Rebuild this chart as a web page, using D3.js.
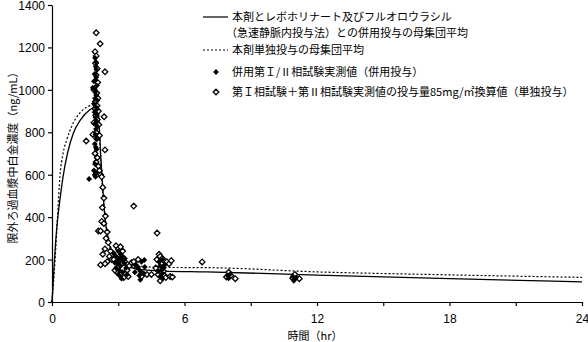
<!DOCTYPE html>
<html>
<head>
<meta charset="utf-8">
<script src="https://cdn.jsdelivr.net/npm/d3@7"></script>
<style>
  body { margin: 0; background: #fff; }
  svg { display: block; font-family: "Liberation Sans", Arial, "Noto Sans CJK JP", sans-serif; }
  .jp { font-family: "Noto Sans CJK JP", sans-serif; }
</style>
</head>
<body>
<script>
'use strict';

// population mean curves (time hr, conc ng/mL)
var comboT = [0, 0.1, 0.2, 0.36, 0.5, 0.7, 0.97, 1.3, 1.73, 2.05, 2.1, 2.2, 2.32, 2.4, 2.5, 2.62, 2.8, 3.0, 3.4, 3.85, 5, 7, 12, 18, 24];
var comboV = [0, 180, 330, 483, 590, 700, 797, 860, 907, 923, 900, 700, 500, 400, 320, 260, 215, 190, 170, 155, 146, 142, 127, 110, 95];
var singleT = [0, 0.14, 0.25, 0.36, 0.5, 0.67, 0.9, 1.27, 1.6, 1.9, 2.0, 2.12, 2.22, 2.33, 2.42, 2.55, 2.72, 2.95, 3.3, 3.9, 5, 7, 12, 18, 24];
var singleV = [0, 200, 400, 593, 700, 766, 830, 892, 920, 931, 935, 850, 650, 480, 380, 300, 240, 200, 180, 170, 163, 162, 142, 128, 116];

// combination phase I/II observed (filled)
var comboObs = [
  [1.95,1150],[2.0,1130],[1.98,1110],[2.02,1095],[1.93,1075],[2.0,1060],[1.97,1045],[1.9,1040],[2.03,1020],[1.85,1010],
  [1.92,1005],[1.96,990],[2.0,975],[1.95,960],[2.05,950],[1.9,935],[1.98,920],[2.0,905],[1.93,895],[2.02,885],
  [1.97,870],[2.0,855],[1.95,840],[2.04,830],[1.99,815],[1.96,790],[2.0,770],[1.94,745],[1.98,730],[2.02,720],
  [1.95,650],[1.9,620],[2.0,610],[1.93,600],[1.97,590],[1.68,580],
  [2.8,230],[2.9,215],[3.0,240],[3.05,205],[3.1,225],[2.95,195],[3.0,180],[3.15,200],[3.2,215],[3.1,170],
  [2.9,160],[3.05,150],[3.2,140],[3.0,130],[3.1,120],[3.25,185],[3.3,205],[3.35,160],[3.4,130],[2.85,185],[3.15,110],
  [3.8,175],[3.9,160],[4.0,145],[4.05,190],[4.18,198],[3.95,125],[4.0,105],[4.15,135],[4.2,165],[3.75,140],
  [4.85,190],[4.9,170],[4.95,150],[5.0,135],[5.05,160],[4.9,120],[5.0,110],[5.1,175],[4.8,145],[5.0,200],
  [7.95,125],[8.0,112],[8.05,130],
  [10.9,120],[11.0,108],[11.05,115],[10.95,100]
];

// phase I + phase II observed, normalised to 85 mg/m2 (open)
var singleObs = [
  [2.0,1269],[2.18,1217],[2.4,1085],[1.95,1180],[2.0,1160],[1.97,1125],[2.05,1100],[2.0,1070],[2.07,1035],[1.9,1000],
  [2.03,985],[2.08,960],[1.97,945],[2.04,925],[1.95,910],[2.1,900],[1.98,880],[2.36,873],[2.05,860],[1.9,845],
  [2.12,835],[2.0,800],[1.85,790],[2.15,785],[1.55,759],[2.03,770],[2.4,717],[1.95,700],[2.05,680],[2.0,660],
  [2.1,640],[2.2,600],[2.15,620],[2.25,590],[2.3,540],[2.35,490],[2.28,445],[2.42,405],[2.25,380],[2.35,370],
  [2.5,330],[2.1,335],[2.45,300],[2.2,335],[2.55,280],[2.4,250],[2.3,225],[2.6,215],[2.2,175],[2.5,190],
  [2.65,240],[2.7,200],[2.4,180],
  [2.9,265],[3.0,250],[3.1,260],[2.8,200],[3.2,240],[3.3,190],[3.15,180],[3.0,165],[2.95,140],[3.1,130],
  [3.25,115],[3.4,150],[3.5,170],[2.85,150],[3.45,120],
  [3.7,452],[4.76,325],[6.8,189],
  [3.6,185],[3.7,190],[3.85,165],[4.3,130],[3.9,200],[4.05,120],
  [4.85,225],[4.9,215],[5.0,205],[5.2,190],[5.3,180],[4.95,180],[4.7,160],[4.8,130],[5.05,145],[5.1,125],
  [4.9,100],[5.15,115],[5.35,120],[5.45,118],[4.75,200],[5.4,195],[4.5,130],
  [8.0,140],[8.1,125],[8.3,110],[7.9,118],
  [11.0,130],[11.2,110],[10.9,112]
];

var xTicks = [0, 3, 6, 9, 12, 15, 18, 21, 24];
var yTicks = [0, 200, 400, 600, 800, 1000, 1200, 1400];

var legendLabels = [
  ["本剤とレボホリナート及びフルオロウラシル", "（急速静脈内投与法）との併用投与の母集団平均"],
  ["本剤単独投与の母集団平均"],
  ["併用第Ｉ/Ⅱ相試験実測値（併用投与）"],
  ["第Ｉ相試験＋第Ⅱ相試験実測値の投与量85mg/㎡換算値（単独投与）"]
];

var W = 588, H = 342;
var svg = d3.select("body").append("svg").attr("width", W).attr("height", H);

var x = d3.scaleLinear().domain([0, 24]).range([52, 582]);
var y = d3.scaleLinear().domain([0, 1400]).range([302, 5]);

// axes
var xAxis = svg.append("g").attr("transform", "translate(0,302)")
  .call(d3.axisBottom(x).tickValues(xTicks).tickSize(4).tickSizeOuter(0)
    .tickFormat(function(d){ return d % 6 === 0 ? d : ""; }));
var yAxis = svg.append("g").attr("transform", "translate(52,0)")
  .call(d3.axisLeft(y).tickValues(yTicks).tickSize(4).tickSizeOuter(0).tickFormat(d3.format("d")));
[xAxis, yAxis].forEach(function(g){
  g.selectAll("path, line").attr("stroke", "#000").attr("stroke-width", 1.2);
  g.selectAll("text").attr("fill", "#000").style("font-size", "12px");
});
xAxis.selectAll("text").attr("dy", "1.2em");
yAxis.selectAll("text").attr("dy", "0.38em");

svg.append("text").attr("class", "jp")
  .attr("x", 315).attr("y", 340).attr("text-anchor", "middle")
  .style("font-size", "11px").text("時間（hr）");
svg.append("text").attr("class", "jp")
  .attr("transform", "translate(17,155) rotate(-90)").attr("text-anchor", "middle")
  .style("font-size", "11px").text("限外ろ過血漿中白金濃度（ng/mL）");

// curves
var line = d3.line().curve(d3.curveMonotoneX)
  .x(function(d){ return x(d[0]); }).y(function(d){ return y(d[1]); });
var comboCurve = comboT.map(function(t, i){ return [t, comboV[i]]; });
var singleCurve = singleT.map(function(t, i){ return [t, singleV[i]]; });

svg.append("path").attr("d", line(singleCurve))
  .attr("fill", "none").attr("stroke", "#000").attr("stroke-width", 1.2)
  .attr("stroke-dasharray", "2,2");
svg.append("path").attr("d", line(comboCurve))
  .attr("fill", "none").attr("stroke", "#000").attr("stroke-width", 1.3);

// markers
var diamond = d3.symbol().type(d3.symbolDiamond2);
svg.append("g").selectAll("path").data(singleObs).enter().append("path")
  .attr("d", diamond.size(20))
  .attr("transform", function(d){ return "translate(" + x(d[0]) + "," + y(d[1]) + ")"; })
  .attr("fill", "#fff").attr("stroke", "#000").attr("stroke-width", 1.3);
svg.append("g").selectAll("path").data(comboObs).enter().append("path")
  .attr("d", diamond.size(22))
  .attr("transform", function(d){ return "translate(" + x(d[0]) + "," + y(d[1]) + ")"; })
  .attr("fill", "#000");

// legend
var lg = svg.append("g").attr("class", "jp").style("font-size", "11px");
lg.append("line").attr("x1", 203).attr("x2", 228).attr("y1", 17).attr("y2", 17)
  .attr("stroke", "#000").attr("stroke-width", 1.2);
lg.append("text").attr("x", 232).attr("y", 21).text(legendLabels[0][0]);
lg.append("text").attr("x", 226).attr("y", 37).text(legendLabels[0][1]);
lg.append("line").attr("x1", 203).attr("x2", 228).attr("y1", 50).attr("y2", 50)
  .attr("stroke", "#000").attr("stroke-width", 1.2).attr("stroke-dasharray", "2,2");
lg.append("text").attr("x", 232).attr("y", 54).text(legendLabels[1][0]);
lg.append("path").attr("d", diamond.size(22)).attr("transform", "translate(216,72)").attr("fill", "#000");
lg.append("text").attr("x", 232).attr("y", 76).text(legendLabels[2][0]);
lg.append("path").attr("d", diamond.size(20)).attr("transform", "translate(216,92)")
  .attr("fill", "#fff").attr("stroke", "#000").attr("stroke-width", 1.3);
lg.append("text").attr("x", 232).attr("y", 96).text(legendLabels[3][0]);
</script>
</body>
</html>
